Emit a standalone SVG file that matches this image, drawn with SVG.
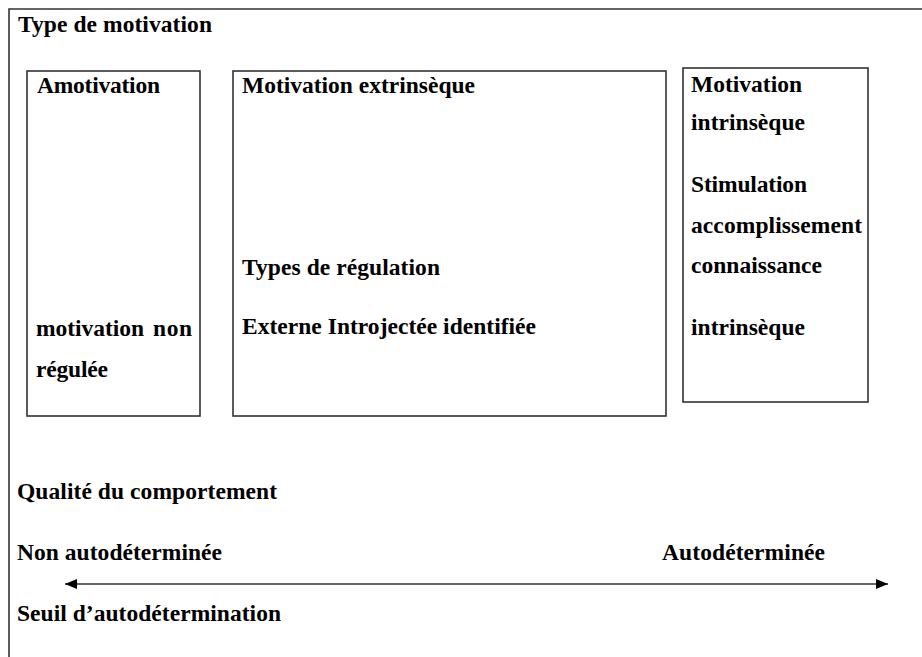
<svg xmlns="http://www.w3.org/2000/svg" width="922" height="657" viewBox="0 0 922 657">
<style>
text{font-family:"Liberation Serif","Times New Roman",serif;font-weight:bold;font-size:23.5px;fill:#000}
.box{fill:#fff;stroke:#333;stroke-width:1.6}
.ln{stroke:#333;stroke-width:1.6;fill:none}
</style>
<defs>
<marker id="ah" viewBox="0 0 12 10" refX="12" refY="5" markerWidth="12" markerHeight="10" markerUnits="userSpaceOnUse" orient="auto-start-reverse">
<path d="M0,0 L12,5 L0,10 z" fill="#000"/>
</marker>
</defs>
<rect width="922" height="657" fill="#fff"/>
<g id="frame">
<path class="ln" d="M9,657 L9,9 L922,9"/>
<text x="18" y="32" textLength="194" lengthAdjust="spacing">Type de motivation</text>
</g>
<g id="amotivation">
<rect class="box" x="27" y="71" width="173" height="345"/>
<text x="37" y="93" textLength="123" lengthAdjust="spacing">Amotivation</text>
<text x="36" y="336"><tspan x="36" textLength="108" lengthAdjust="spacing">motivation</tspan><tspan x="153" textLength="39" lengthAdjust="spacing">non</tspan></text>
<text x="36" y="377" textLength="72" lengthAdjust="spacing">régulée</text>
</g>
<g id="extrinseque">
<rect class="box" x="233" y="71" width="433" height="345"/>
<text x="242" y="93" textLength="233" lengthAdjust="spacing">Motivation extrinsèque</text>
<text x="242" y="275" textLength="198" lengthAdjust="spacing">Types de régulation</text>
<text x="242" y="334" textLength="294" lengthAdjust="spacing">Externe Introjectée identifiée</text>
</g>
<g id="intrinseque">
<rect class="box" x="683" y="68" width="185" height="334"/>
<text x="691" y="92" textLength="111" lengthAdjust="spacing">Motivation</text>
<text x="691" y="130" textLength="114" lengthAdjust="spacing">intrinsèque</text>
<text x="691" y="192" textLength="116" lengthAdjust="spacing">Stimulation</text>
<text x="691" y="233" textLength="171" lengthAdjust="spacing">accomplissement</text>
<text x="691" y="273" textLength="131" lengthAdjust="spacing">connaissance</text>
<text x="691" y="335" textLength="114" lengthAdjust="spacing">intrinsèque</text>
</g>
<g id="labels">
<text x="17" y="499" textLength="260" lengthAdjust="spacing">Qualité du comportement</text>
<text x="17" y="560" textLength="205" lengthAdjust="spacing">Non autodéterminée</text>
<text x="662" y="560" textLength="163" lengthAdjust="spacing">Autodéterminée</text>
<text x="17" y="621" textLength="264" lengthAdjust="spacing">Seuil d’autodétermination</text>
</g>
<g id="connectors">
<line class="ln" x1="65" y1="584" x2="888" y2="584" marker-start="url(#ah)" marker-end="url(#ah)"/>
</g>
</svg>
